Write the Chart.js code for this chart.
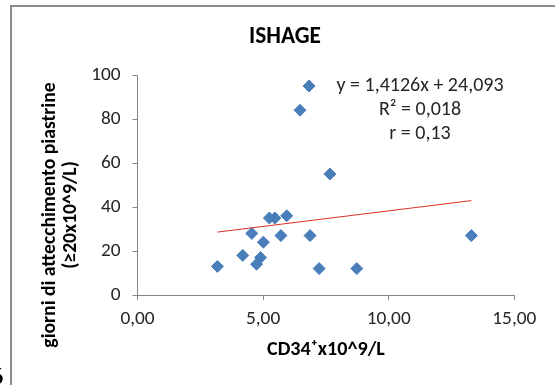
<!DOCTYPE html>
<html>
<head>
<meta charset="utf-8">
<script src="https://cdn.jsdelivr.net/npm/chart.js@4/dist/chart.umd.min.js"></script>
<style>
  html, body { margin: 0; padding: 0; background: #fff; }
  #wrap { width: 555px; height: 385px; }
</style>
</head>
<body>
<div id="wrap"><canvas id="ishageChart" width="555" height="385"></canvas></div>
<script>
// data
var cd34 = [6.83, 6.47, 7.66, 5.25, 5.47, 5.94, 4.55, 5.01, 5.71, 6.87, 3.18, 4.19, 4.74, 4.90, 7.23, 8.73, 13.29];
var giorni = [95, 84, 55, 35, 35, 36, 28, 24, 27, 27, 13, 18, 14, 17, 12, 12, 27];
var trendX = [3.18, 13.29];
var trendY = [28.6, 42.9];
var xTicks = [0, 5, 10, 15];
var yTicks = [0, 20, 40, 60, 80, 100];
var chartTitle = 'ISHAGE';
var equation = ['y = 1,4126x + 24,093', 'R\u00b2 = 0,018', 'r = 0,13'];
var yTitle = ['giorni di attecchimento piastrine', '(\u226520x10^9/L)'];
var xTitle = 'CD34\u207ax10^9/L';

var FAMILY = 'Carlito, Calibri, Lato, sans-serif';
var TEXT = '#262626';
var AXIS = '#868686';

// pick a font size so a string gets the width it has in the picture
function fitSize( text, weight, width ){
    var c = document.createElement( 'canvas' ).getContext( '2d' );
    c.font = weight + ' 100px ' + FAMILY;
    return Math.round( 1000 * width / c.measureText( text ).width ) / 10;
}

var tickSize = fitSize( '15,00', 'normal', 44 );
var titleSize = fitSize( chartTitle, 'bold', 72 );
var xTitleSize = fitSize( xTitle, 'bold', 118 );
var yTitleSize = fitSize( yTitle[0], 'bold', 265 );
var eqSize = fitSize( equation[0], 'normal', 167 );

var points = cd34.map( function( x, i ){ return { x: x, y: giorni[i] }; } );
var trend = trendX.map( function( x, i ){ return { x: x, y: trendY[i] }; } );

var extras = {
    id: 'extras',
    afterDraw: function( chart ){
        var ctx = chart.ctx;
        ctx.save();
        // outer frame
        ctx.strokeStyle = '#8c8c8c';
        ctx.lineWidth = 2;
        ctx.strokeRect( 11, 6, 600, 400 );
        // cut-off glyph at bottom left
        ctx.fillStyle = '#000';
        ctx.font = 'bold 22px ' + FAMILY;
        ctx.textAlign = 'left';
        ctx.textBaseline = 'alphabetic';
        ctx.fillText( '6', -8, 384 );
        // chart title, centred on the frame rather than the plot
        ctx.font = 'bold ' + titleSize + 'px ' + FAMILY;
        ctx.textAlign = 'center';
        ctx.textBaseline = 'middle';
        ctx.fillText( chartTitle, 285, 37 );
        // y axis title, two lines
        ctx.font = 'bold ' + yTitleSize + 'px ' + FAMILY;
        ctx.translate( 0, 215 );
        ctx.rotate( -Math.PI / 2 );
        ctx.fillText( yTitle[0], 0, 50 );
        ctx.fillText( yTitle[1], 0, 71 );
        ctx.restore();
        // trendline label
        ctx.save();
        ctx.fillStyle = TEXT;
        ctx.font = eqSize + 'px ' + FAMILY;
        ctx.textAlign = 'center';
        ctx.textBaseline = 'middle';
        equation.forEach( function( line, i ){
            ctx.fillText( line, 420, 86 + i * 24 );
        });
        ctx.restore();
    }
};

var ctx = document.getElementById( 'ishageChart' ).getContext( '2d' );
var ishageChart = new Chart( ctx, {
    type: 'scatter',
    data: {
        datasets: [{
            type: 'line',
            data: trend,
            borderColor: 'rgb(222, 45, 38)',
            borderWidth: 1,
            pointRadius: 0,
            fill: false,
            order: 0
        }, {
            data: points,
            pointStyle: 'rectRot',
            pointRadius: 6,
            pointHoverRadius: 6,
            backgroundColor: '#4a7ebb',
            borderColor: '#4a7ebb',
            borderWidth: 1,
            order: 1
        }]
    },
    options: {
        responsive: false,
        animation: false,
        events: [],
        layout: { padding: { left: 0, right: 40.7, top: 75, bottom: 0 } },
        plugins: {
            legend: { display: false },
            tooltip: { enabled: false },
            title: { display: false }
        },
        scales: {
            x: {
                type: 'linear',
                min: 0,
                max: 15,
                afterFit: function( scale ){ scale.height = 90; },
                afterBuildTicks: function( scale ){
                    scale.ticks = xTicks.map( function( v ){ return { value: v }; } );
                },
                ticks: {
                    color: TEXT,
                    padding: 8,
                    maxRotation: 0,
                    font: { family: FAMILY, size: tickSize },
                    callback: function( v ){ return v.toFixed( 2 ).replace( '.', ',' ); }
                },
                grid: { drawOnChartArea: false, drawTicks: true, tickLength: 5, color: AXIS },
                border: { color: AXIS, width: 1 },
                title: {
                    display: true,
                    text: xTitle,
                    color: '#000',
                    font: { family: FAMILY, size: xTitleSize, weight: 'bold', lineHeight: 1.2 },
                    padding: { top: 0, bottom: 35 - 0.6 * xTitleSize }
                }
            },
            y: {
                min: 0,
                max: 100,
                afterFit: function( scale ){ scale.width = 137.5; },
                afterBuildTicks: function( scale ){
                    scale.ticks = yTicks.map( function( v ){ return { value: v }; } );
                },
                ticks: {
                    color: TEXT,
                    padding: 12,
                    font: { family: FAMILY, size: tickSize }
                },
                grid: { drawOnChartArea: false, drawTicks: true, tickLength: 5, color: AXIS },
                border: { color: AXIS, width: 1 }
            }
        }
    },
    plugins: [ extras ]
});
</script>
</body>
</html>
